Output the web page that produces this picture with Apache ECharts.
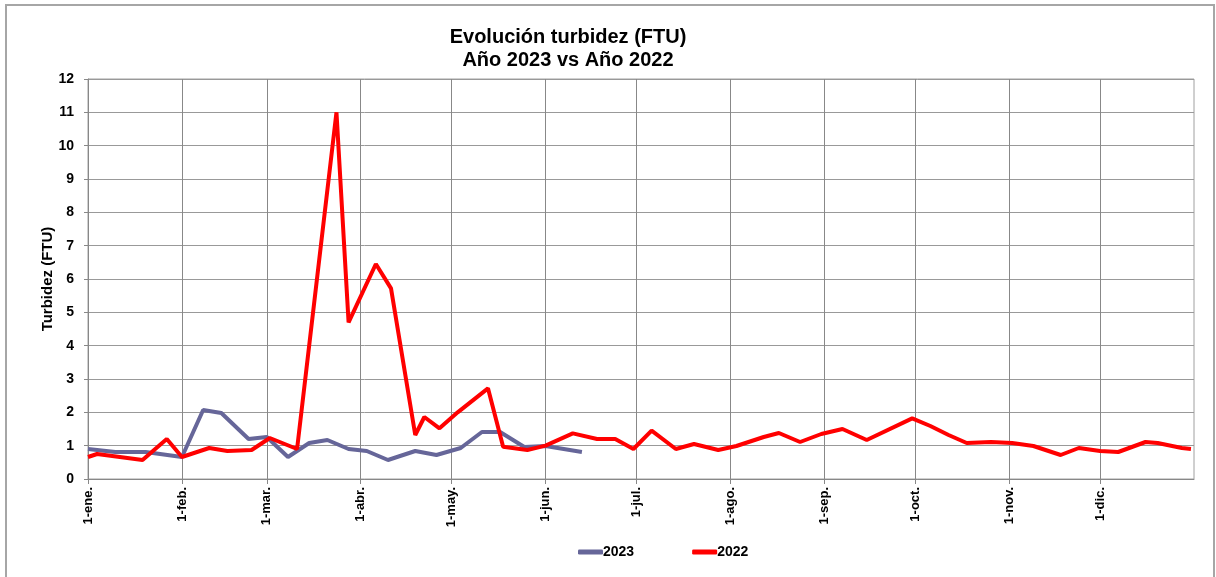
<!DOCTYPE html>
<html>
<head>
<meta charset="utf-8">
<script src="https://cdn.jsdelivr.net/npm/echarts@6/dist/echarts.min.js"></script>
<style>html,body{margin:0;padding:0;background:#fff}#c{width:1216px;height:577px}</style>
</head>
<body>
<div id="c"></div>
<script>
// Dates (month-day) and values
var dates2022 = ['01-01','01-04','01-19','01-27','02-01','02-10','02-16','02-24','03-02','03-11','03-24','03-28','04-06','04-11','04-19','04-22','04-27','05-03','05-13','05-18','05-26','06-01','06-10','06-18','06-24','06-30','07-06','07-14','07-20','07-28','08-03','08-12','08-17','08-24','08-31','09-07','09-15','09-30','10-06','10-12','10-18','10-26','11-02','11-09','11-18','11-24','12-01','12-07','12-16','12-20','12-28','12-31'];
var values2022 = [0.66,0.75,0.57,1.2,0.66,0.93,0.84,0.87,1.23,0.9,11.0,4.7,6.45,5.72,1.32,1.86,1.52,2.0,2.72,0.97,0.87,1.0,1.37,1.2,1.2,0.9,1.45,0.9,1.05,0.87,0.99,1.26,1.38,1.11,1.35,1.5,1.17,1.82,1.59,1.32,1.08,1.11,1.08,0.99,0.72,0.93,0.84,0.81,1.11,1.08,0.93,0.9];
var dates2023 = ['01-01','01-10','01-20','02-01','02-08','02-14','02-23','03-01','03-08','03-15','03-21','03-28','04-03','04-10','04-19','04-26','05-04','05-11','05-17','05-25','06-01','06-13'];
var values2023 = [0.9,0.81,0.81,0.66,2.07,1.98,1.2,1.26,0.66,1.08,1.17,0.9,0.84,0.57,0.84,0.72,0.93,1.41,1.41,0.96,0.99,0.81];
var monthLabels = ['1-ene.','1-feb.','1-mar.','1-abr.','1-may.','1-jun.','1-jul.','1-ago.','1-sep.','1-oct.','1-nov.','1-dic.'];
var seriesNames = ['2023','2022'];

var YEAR = 2023;
function ts(md){ var p = md.split('-'); return new Date(YEAR, parseInt(p[0],10)-1, parseInt(p[1],10)).getTime(); }
function pairs(d, v){ return d.map(function(x,i){ return [ts(x), v[i]]; }); }
var monthTicks = monthLabels.map(function(_, i){ return new Date(YEAR, i, 1).getTime(); });
var endTs = new Date(YEAR+1,0,1).getTime();

var chart = echarts.init(document.getElementById('c'));
var FONT = 'Liberation Sans, Arial, sans-serif';
chart.setOption({
  animation: false,
  backgroundColor: '#fff',
  graphic: [{
    type: 'rect', shape: {x: 6, y: 5, width: 1208, height: 590},
    style: {fill: 'none', stroke: '#a6a6a6', lineWidth: 2}, z: -1
  }],
  title: {
    text: 'Evolución turbidez (FTU)\nAño 2023 vs Año 2022',
    left: 563, top: 21, textAlign: 'center',
    textStyle: {fontFamily: FONT, fontWeight: 'bold', fontSize: 20, lineHeight: 23, color: '#000'}
  },
  legend: {
    data: seriesNames,
    left: 578, top: 545, padding: 0,
    itemWidth: 25, itemHeight: 5, itemGap: 58,
    icon: 'roundRect',
    textStyle: {fontFamily: FONT, fontWeight: 'bold', fontSize: 14, color: '#000', padding: [0,0,0,-5]}
  },
  grid: {left: 88, right: 22, top: 79, bottom: 98, show: true, borderColor: '#a0a0a0', borderWidth: 1},
  xAxis: {
    type: 'value',
    min: monthTicks[0],
    max: endTs,
    axisLine: {show: true, lineStyle: {color: '#888', width: 1}},
    axisTick: {show: true, length: 5, lineStyle: {color: '#888'}, customValues: monthTicks},
    axisLabel: {
      customValues: monthTicks,
      rotate: 90, margin: 8,
      fontFamily: FONT, fontWeight: 'bold', fontSize: 13, color: '#000',
      formatter: function(v){ return monthLabels[new Date(v).getMonth()]; }
    },
    splitLine: {show: true, lineStyle: {color: '#888', width: 1}}
  },
  yAxis: {
    type: 'value', min: 0, max: 12, interval: 1,
    name: 'Turbidez (FTU)', nameLocation: 'middle', nameGap: 33, nameRotate: 90, nameMoveOverlap: false,
    nameTextStyle: {fontFamily: FONT, fontWeight: 'bold', fontSize: 15, color: '#000'},
    axisLine: {show: true, lineStyle: {color: '#888', width: 1}},
    axisTick: {show: true, length: 4, lineStyle: {color: '#888'}},
    axisLabel: {margin: 14, fontFamily: FONT, fontWeight: 'bold', fontSize: 14, color: '#000'},
    splitLine: {show: true, lineStyle: {color: '#999', width: 1}}
  },
  series: [
    {name: seriesNames[0], type: 'line', data: pairs(dates2023, values2023), symbol: 'none',
     lineStyle: {color: '#666699', width: 4}, itemStyle: {color: '#666699'}, z: 2},
    {name: seriesNames[1], type: 'line', data: pairs(dates2022, values2022), symbol: 'none',
     lineStyle: {color: '#ff0000', width: 4}, itemStyle: {color: '#ff0000'}, z: 3}
  ]
});
</script>
</body>
</html>
